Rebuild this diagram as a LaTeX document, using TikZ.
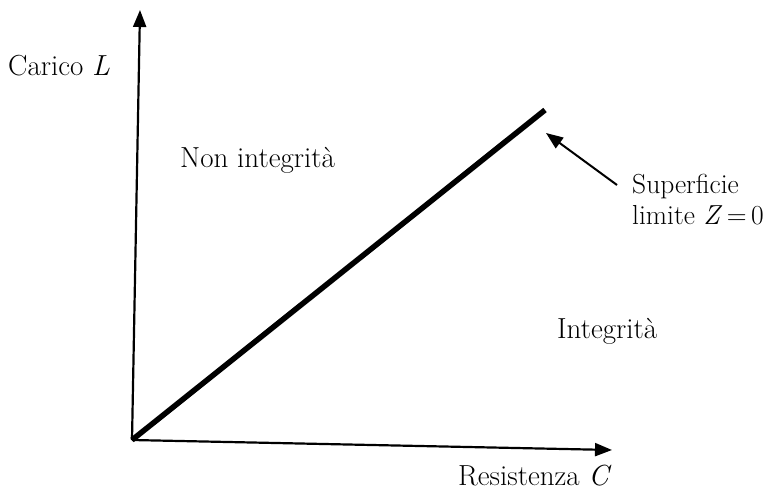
\documentclass[tikz,border=0pt]{standalone}
\usetikzlibrary{arrows.meta}
\begin{document}
\begin{tikzpicture}[x=1pt,y=-1pt,
  axis/.style={line width=2.2pt,-{Triangle[length=17pt,width=13pt]}},
  limitline/.style={line width=5.5pt},
  pointer/.style={line width=2pt,-{Triangle[length=17pt,width=13pt]}},
  lbl/.style={font=\fontsize{29}{34}\selectfont,inner sep=0pt}]
  \useasboundingbox (0,0) rectangle (771,490);
  % axes
  \coordinate (O) at (132,440);
  \coordinate (ytop) at (140,10);
  \coordinate (xend) at (612,450);
  \draw[axis] (O) -- (ytop);
  \draw[axis] (O) -- (xend);
  % limit surface Z = 0
  \coordinate (lend) at (545,110);
  \draw[limitline] (O) -- (lend);
  % labels
  \node[lbl,anchor=west] (yl) at (8,66) {Carico \textit{L}};
  \node[lbl,anchor=west] (xl) at (458,476) {Resistenza \textit{C}};
  \node[lbl,anchor=west] (nonint) at (180,160) {Non integrità};
  \node[lbl,anchor=west] (int) at (557,331) {Integrità};
  \node[lbl,font=\fontsize{27.5}{33}\selectfont,anchor=north west,align=left] (sup) at (632,174)
    {Superficie\\[-2pt]limite \textit{Z}\kern4.5pt=\kern4.5pt0};
  \coordinate (ptail) at (617,185);
  \coordinate (ptip) at (546,133);
  \draw[pointer] (ptail) -- (ptip);
\end{tikzpicture}
\end{document}
